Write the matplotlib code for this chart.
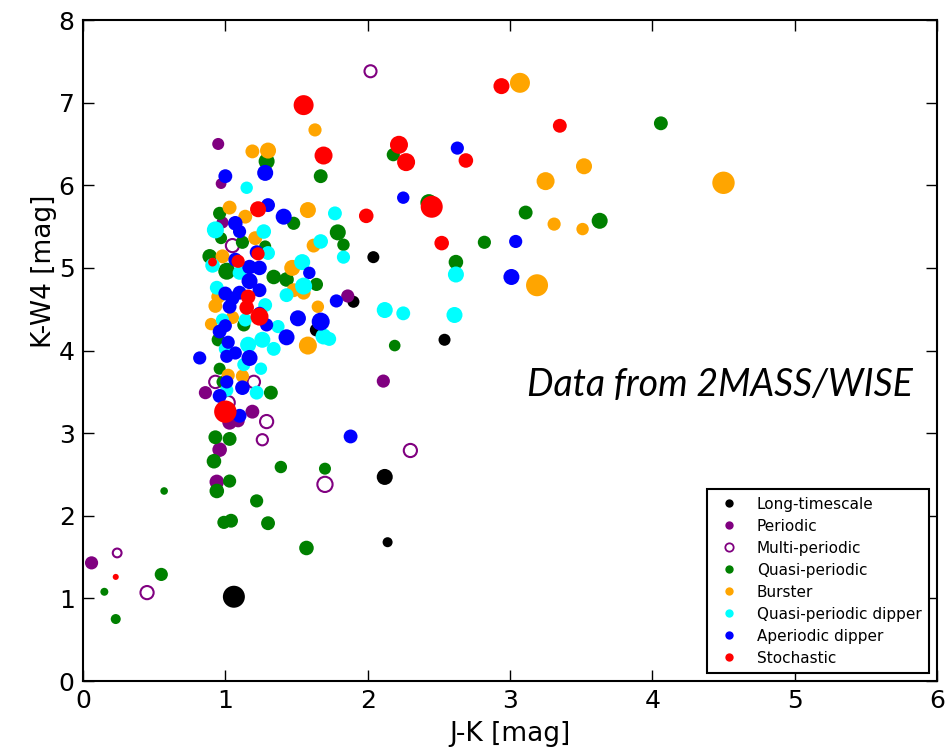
import numpy as np
import matplotlib
matplotlib.use('Agg')
import matplotlib.pyplot as plt
from matplotlib.lines import Line2D

# J-K, K-W4 and marker area for each class
long_x = [1.06, 2.12, 2.14, 2.54, 2.04, 1.90, 1.64]
long_y = [1.02, 2.47, 1.68, 4.13, 5.13, 4.59, 4.25]
long_s = [251, 133, 52, 75, 75, 75, 90]

per_x = [0.06, 0.95, 0.97, 2.11, 1.86, 0.86, 0.96, 0.94, 1.03, 1.09, 1.19, 0.98]
per_y = [1.43, 6.50, 6.02, 3.63, 4.66, 3.49, 2.80, 2.41, 3.13, 3.15, 3.26, 5.55]
per_s = [90, 75, 60, 90, 90, 90, 110, 110, 110, 90, 100, 75]

multi_x = [0.24, 0.45, 2.02, 2.30, 1.70, 1.29, 1.26, 0.93, 1.20, 1.02, 1.05]
multi_y = [1.55, 1.07, 7.38, 2.79, 2.38, 3.14, 2.92, 3.62, 3.62, 3.37, 5.27]
multi_s = [40, 90, 75, 90, 120, 90, 65, 80, 80, 90, 90]

qp_x = [0.23, 0.15, 0.55, 0.57, 0.93, 1.03, 0.92, 0.94, 1.03, 0.99, 1.04, 1.22, 1.30, 1.39,
        1.57, 1.70, 1.32, 2.19, 2.82, 3.11, 3.63, 4.06, 2.62, 2.43, 2.18, 1.29, 1.67, 1.79,
        1.83, 0.96, 0.97, 1.12, 0.89, 1.01, 1.34, 1.43, 1.64, 1.48, 1.28, 0.95, 0.96, 1.13, 0.98]
qp_y = [0.75, 1.08, 1.29, 2.30, 2.95, 2.93, 2.66, 2.30, 2.42, 1.92, 1.94, 2.18, 1.91, 2.59,
        1.61, 2.57, 3.49, 4.06, 5.31, 5.67, 5.57, 6.75, 5.07, 5.79, 6.37, 6.29, 6.11, 5.43,
        5.28, 5.66, 5.36, 5.31, 5.14, 4.96, 4.89, 4.86, 4.80, 5.54, 5.26, 4.13, 3.78, 4.31, 3.62]
qp_s = [52, 33, 90, 30, 100, 100, 110, 110, 90, 90, 100, 90, 100, 80,
        110, 75, 100, 70, 90, 100, 133, 100, 110, 150, 90, 133, 100, 133,
        80, 90, 75, 90, 110, 150, 110, 110, 90, 90, 75, 90, 75, 90, 75]

burst_x = [4.50, 3.07, 3.52, 3.25, 3.31, 3.51, 3.19, 1.63, 1.19, 1.30, 1.58, 1.03, 1.14,
           1.21, 1.62, 0.98, 1.47, 1.55, 1.48, 1.65, 0.93, 0.90, 1.58, 1.02, 1.12, 0.95, 1.05]
burst_y = [6.03, 7.24, 6.23, 6.05, 5.53, 5.47, 4.79, 6.67, 6.41, 6.42, 5.70, 5.73, 5.62,
           5.36, 5.27, 5.14, 5.00, 4.70, 4.73, 4.53, 4.54, 4.32, 4.06, 3.70, 3.69, 4.65, 4.40]
burst_s = [260, 207, 133, 168, 90, 80, 251, 90, 100, 133, 133, 100, 100,
           100, 100, 100, 133, 100, 100, 80, 100, 80, 168, 90, 90, 100, 90]

qpd_x = [1.15, 0.93, 1.27, 1.77, 1.67, 1.83, 1.30, 1.54, 1.10, 1.55, 1.43, 0.94, 1.28, 0.98,
         1.14, 1.37, 2.12, 2.25, 2.62, 2.61, 1.69, 1.73, 1.16, 1.26, 1.34, 1.00, 1.13, 1.25,
         1.22, 1.01, 0.91]
qpd_y = [5.97, 5.46, 5.44, 5.66, 5.32, 5.13, 5.18, 5.07, 4.94, 4.78, 4.67, 4.76, 4.55, 4.37,
         4.37, 4.29, 4.49, 4.45, 4.92, 4.43, 4.17, 4.14, 4.07, 4.13, 4.02, 4.02, 3.83, 3.78,
         3.49, 3.52, 5.03]
qpd_s = [80, 150, 110, 100, 110, 90, 100, 133, 100, 150, 100, 100, 100, 90,
         90, 90, 133, 100, 133, 133, 133, 100, 133, 133, 100, 90, 90, 80,
         100, 90, 110]

apd_x = [1.00, 1.28, 2.25, 1.30, 1.41, 1.07, 1.10, 1.22, 1.07, 1.17, 1.24, 1.59, 1.17, 1.24,
         1.00, 1.05, 1.10, 1.03, 1.24, 1.29, 1.78, 1.51, 1.67, 1.43, 0.82, 0.96, 1.00, 1.02,
         1.07, 1.01, 1.17, 1.01, 1.12, 0.96, 1.10, 1.88, 2.63, 3.04, 3.01]
apd_y = [6.11, 6.15, 5.85, 5.76, 5.62, 5.54, 5.44, 5.19, 5.10, 5.01, 5.00, 4.94, 4.84, 4.73,
         4.69, 4.63, 4.70, 4.53, 4.45, 4.31, 4.60, 4.39, 4.35, 4.16, 3.91, 4.23, 4.30, 4.10,
         3.97, 3.93, 3.91, 3.62, 3.55, 3.45, 3.21, 2.96, 6.45, 5.32, 4.89]
apd_s = [100, 133, 80, 100, 133, 110, 90, 100, 100, 110, 110, 80, 133, 100,
         100, 100, 100, 100, 90, 90, 90, 133, 168, 133, 90, 100, 90, 90,
         90, 90, 133, 90, 110, 100, 100, 100, 90, 90, 133]

sto_x = [0.23, 1.00, 1.55, 1.69, 2.22, 2.27, 2.94, 3.35, 2.69, 2.45, 2.52, 1.99, 1.23, 0.91,
         1.09, 1.23, 1.16, 1.15, 1.24]
sto_y = [1.26, 3.26, 6.97, 6.36, 6.49, 6.28, 7.20, 6.72, 6.30, 5.74, 5.30, 5.63, 5.71, 5.07,
         5.08, 5.17, 4.65, 4.52, 4.41]
sto_s = [19, 260, 207, 168, 168, 168, 133, 100, 110, 251, 110, 110, 133, 40,
         90, 90, 110, 110, 168]

fig = plt.figure(figsize=(9.53, 7.53), dpi=100)
ax = fig.add_axes([0.0871, 0.0956, 0.8961, 0.8778])

ax.scatter(long_x, long_y, s=long_s, c='black', edgecolors='none')
ax.scatter(per_x, per_y, s=per_s, c='purple', edgecolors='none')
ax.scatter(multi_x, multi_y, s=multi_s, facecolors='none', edgecolors='purple', linewidths=1.5)
ax.scatter(qp_x, qp_y, s=qp_s, c='green', edgecolors='none')
ax.scatter(burst_x, burst_y, s=burst_s, c='orange', edgecolors='none')
ax.scatter(qpd_x, qpd_y, s=qpd_s, c='cyan', edgecolors='none')
ax.scatter(apd_x, apd_y, s=apd_s, c='blue', edgecolors='none')
ax.scatter(sto_x, sto_y, s=sto_s, c='red', edgecolors='none')

ax.set_xlim(0, 6)
ax.set_ylim(0, 8)
ax.set_xticks(range(0, 7))
ax.set_yticks(range(0, 9))
ax.tick_params(direction='in', top=True, right=True, length=8, width=1, labelsize=18, pad=6)
for sp in ax.spines.values():
    sp.set_linewidth(1.5)
ax.set_xlabel('J-K [mag]', fontsize=19)
ax.set_ylabel('K-W4 [mag]', fontsize=19)
ax.xaxis.set_label_coords(0.5, -0.06)
ax.yaxis.set_label_coords(-0.03, 0.62)

ax.text(3.12, 3.58, 'Data from 2MASS/WISE', fontsize=27, style='italic',
        family=['Lato', 'DejaVu Sans'], va='center', ha='left')

names = ['Long-timescale', 'Periodic', 'Multi-periodic', 'Quasi-periodic', 'Burster',
         'Quasi-periodic dipper', 'Aperiodic dipper', 'Stochastic']
cols = ['black', 'purple', 'purple', 'green', 'orange', 'cyan', 'blue', 'red']
handles = []
for n, c in zip(names, cols):
    if n == 'Multi-periodic':
        h = Line2D([], [], ls='none', marker='o', ms=6, mfc='none', mec=c, mew=1.3)
    else:
        h = Line2D([], [], ls='none', marker='o', ms=6, mfc=c, mec='none')
    handles.append(h)
leg = ax.legend(handles, names, loc='lower right', fontsize=11, labelspacing=0.46,
                fancybox=False, framealpha=1, edgecolor='black', borderpad=0.5,
                handletextpad=0.8, borderaxespad=0.5)
leg.get_frame().set_linewidth(1.5)

fig.savefig('out.png', dpi=100)
